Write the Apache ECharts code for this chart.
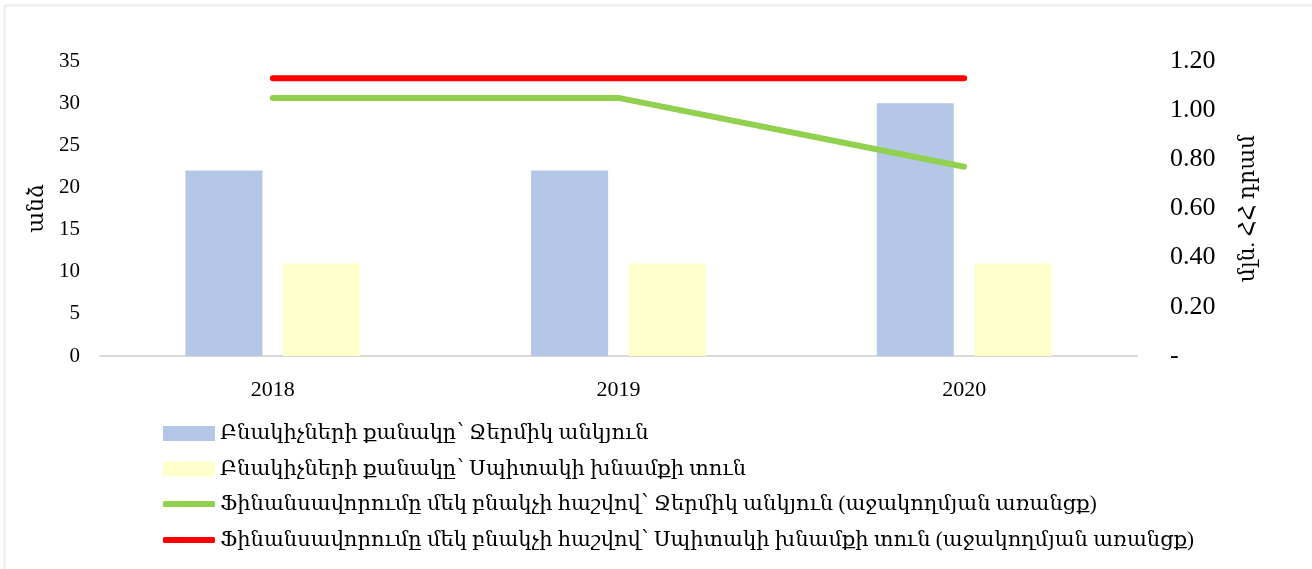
<!DOCTYPE html>
<html>
<head>
<meta charset="utf-8">
<script src="https://cdn.jsdelivr.net/npm/echarts@6/dist/echarts.min.js"></script>
<style>
html,body{margin:0;padding:0;background:#fff;}
#c{width:1312px;height:569px;}
</style>
</head>
<body>
<div id="c"></div>
<script>
const categories = ['2018', '2019', '2020'];
const residentsThermal = [22, 22, 30];
const residentsWhite = [11, 11, 11];
const fundingThermal = [1.05, 1.05, 0.77];
const fundingWhite = [1.13, 1.13, 1.13];
const seriesNames = [
  'Բնակիչների քանակը՝ Ջերմիկ անկյուն',
  'Բնակիչների քանակը՝ Սպիտակի խնամքի տուն',
  'Ֆինանսավորումը մեկ բնակչի հաշվով՝ Ջերմիկ անկյուն (աջակողմյան առանցք)',
  'Ֆինանսավորումը մեկ բնակչի հաշվով՝ Սպիտակի խնամքի տուն (աջակողմյան առանցք)'
];
const leftAxisName = 'անձ';
const rightAxisName = 'մլն. ՀՀ դրամ';

const FONT = "'Liberation Serif', 'DejaVu Serif', serif";
const chart = echarts.init(document.getElementById('c'));

function legendFor(i, top, isLine) {
  return {
    data: [seriesNames[i]],
    left: 163,
    top: top,
    orient: 'vertical',
    icon: isLine ? 'roundRect' : 'rect',
    itemWidth: 52,
    itemHeight: isLine ? 6 : 15,
    textStyle: { fontFamily: FONT, fontSize: 21, color: '#000', lineHeight: 22 },
    selectedMode: false,
    padding: 0
  };
}

chart.setOption({
  backgroundColor: '#fff',
  animation: false,
  graphic: [
    { type: 'line', shape: { x1: 4.5, y1: 5, x2: 4.5, y2: 569 }, style: { stroke: '#ececec', lineWidth: 2 } },
    { type: 'line', shape: { x1: 4, y1: 5.5, x2: 1312, y2: 5.5 }, style: { stroke: '#ececec', lineWidth: 2 } }
  ],
  grid: { left: 100, right: 175, top: 61, bottom: 213 },
  legend: [
    legendFor(0, 422.5, false),
    legendFor(1, 458, false),
    legendFor(2, 493, true),
    legendFor(3, 529, true)
  ],
  xAxis: {
    type: 'category',
    data: categories,
    axisLine: { lineStyle: { color: '#d9d9d9', width: 2 } },
    axisTick: { show: false },
    axisLabel: { fontFamily: FONT, fontSize: 22, color: '#000', margin: 23 }
  },
  yAxis: [
    {
      type: 'value', min: 0, max: 35, interval: 5,
      name: leftAxisName, nameLocation: 'middle', nameRotate: 90, nameGap: 52,
      nameTextStyle: { fontFamily: FONT, fontSize: 22, color: '#000' },
      splitLine: { show: false }, axisLine: { show: false }, axisTick: { show: false },
      axisLabel: { fontFamily: FONT, fontSize: 21, color: '#000', margin: 20 }
    },
    {
      type: 'value', min: 0, max: 1.2, interval: 0.2, position: 'right',
      name: rightAxisName, nameLocation: 'middle', nameRotate: 90, nameGap: 100,
      nameTextStyle: { fontFamily: FONT, fontSize: 22, color: '#000' },
      splitLine: { show: false }, axisLine: { show: false }, axisTick: { show: false },
      axisLabel: {
        fontFamily: FONT, fontSize: 26, color: '#000', margin: 33,
        formatter: v => v === 0 ? '-' : v.toFixed(2)
      }
    }
  ],
  series: [
    { name: seriesNames[0], type: 'bar', data: residentsThermal, barWidth: 77, barGap: '27%',
      itemStyle: { color: '#B4C7E7' } },
    { name: seriesNames[1], type: 'bar', data: residentsWhite, barWidth: 77, barGap: '27%',
      itemStyle: { color: '#FFFFCC' } },
    { name: seriesNames[2], type: 'line', yAxisIndex: 1, data: fundingThermal, showSymbol: false, symbol: 'none',
      lineStyle: { color: '#92D050', width: 6, cap: 'round' }, itemStyle: { color: '#92D050' } },
    { name: seriesNames[3], type: 'line', yAxisIndex: 1, data: fundingWhite, showSymbol: false, symbol: 'none',
      lineStyle: { color: '#FF0000', width: 6, cap: 'round' }, itemStyle: { color: '#FF0000' } }
  ]
});
</script>
</body>
</html>
